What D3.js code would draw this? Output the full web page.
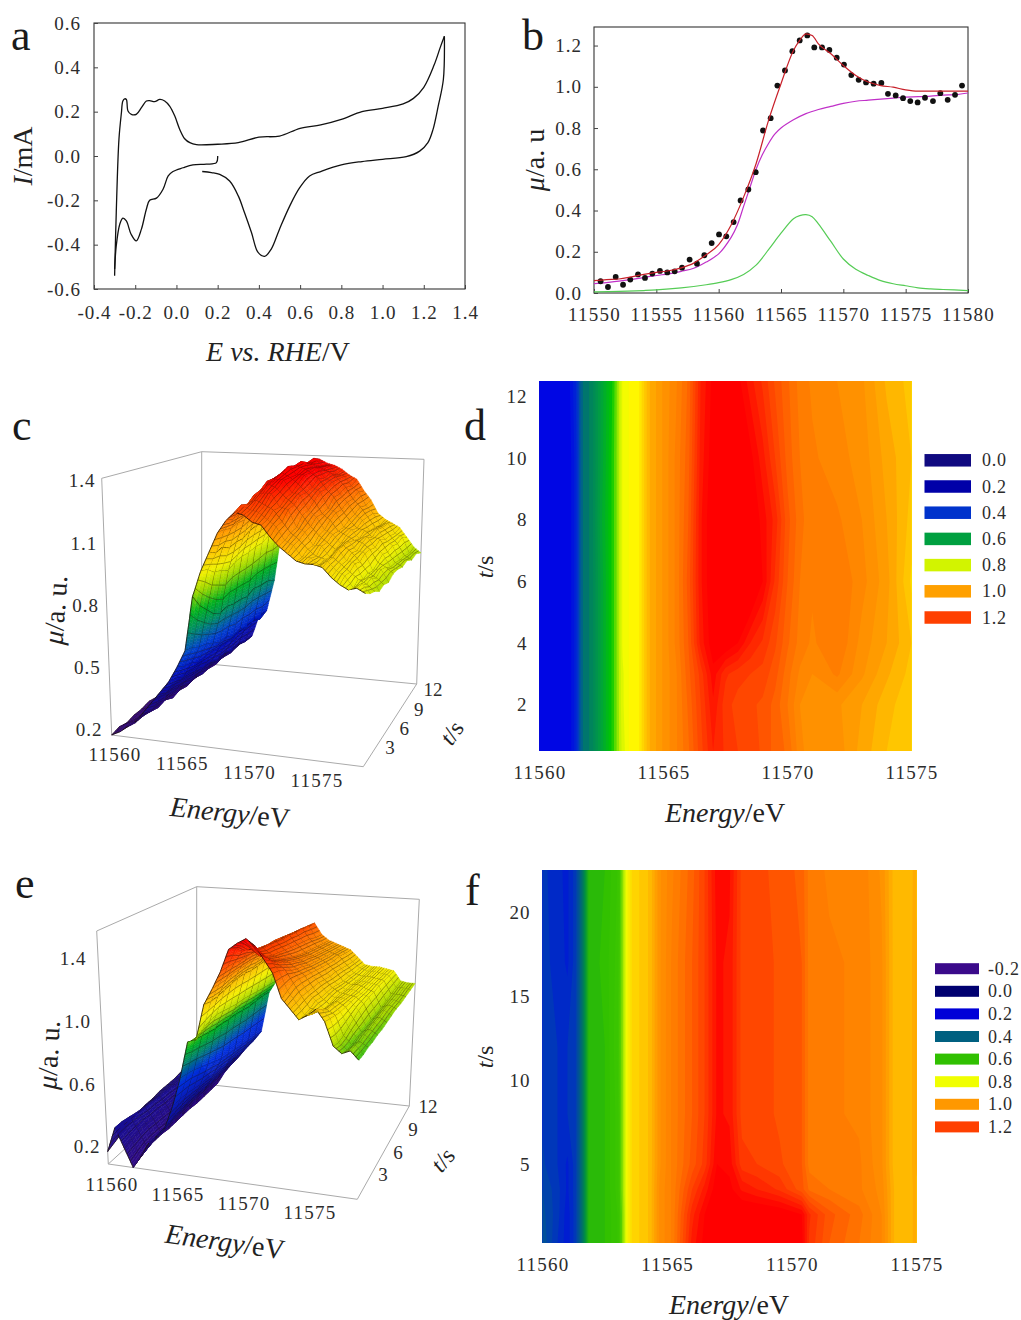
<!DOCTYPE html>
<html>
<head>
<meta charset="utf-8">
<script src="https://cdn.jsdelivr.net/npm/d3@7"></script>
<style>
  html, body { margin: 0; background: #fff; }
  svg { display: block; font-family: 'Liberation Serif', serif; fill: #222; }
  .axis text { fill: #2c2c2c; }
  .axis path.domain { display: none; }
  .axis line { stroke: #444; }
</style>
</head>
<body>
<svg width="1021" height="1320"></svg>
<script>
// panel a: cyclic voltammogram
const cvForward = [[-0.30,-0.54],[-0.292,-0.255],[-0.279,0.075],[-0.267,0.195],[-0.26,0.248],[-0.251,0.258],[-0.243,0.255],[-0.235,0.203],[-0.219,0.188],[-0.195,0.188],[-0.17,0.218],[-0.146,0.248],[-0.13,0.25],[-0.106,0.245],[-0.081,0.255],[-0.057,0.248],[-0.033,0.225],[-0.008,0.18],[0.016,0.12],[0.04,0.078],[0.065,0.06],[0.097,0.051],[0.2,0.053],[0.3,0.06],[0.4,0.085],[0.5,0.09],[0.6,0.125],[0.7,0.14],[0.8,0.165],[0.9,0.2],[1.0,0.215],[1.1,0.235],[1.15,0.26],[1.2,0.31],[1.25,0.41],[1.28,0.49],[1.3,0.54]];
const cvBackHigh = [[1.3,0.54],[1.295,0.345],[1.27,0.225],[1.245,0.12],[1.22,0.06],[1.18,0.022],[1.115,-0.003],[1.0,-0.015],[0.9,-0.025],[0.8,-0.04],[0.7,-0.07],[0.646,-0.09],[0.598,-0.143],[0.55,-0.225],[0.5,-0.33],[0.46,-0.42],[0.428,-0.453],[0.396,-0.435],[0.364,-0.345],[0.33,-0.255],[0.3,-0.18],[0.258,-0.113],[0.21,-0.083],[0.17,-0.075],[0.125,-0.07]];
const cvBackLow = [[0.2,0],[0.194,-0.03],[0.145,-0.037],[0.08,-0.04],[0.032,-0.053],[-0.017,-0.07],[-0.04,-0.09],[-0.065,-0.15],[-0.097,-0.19],[-0.13,-0.2],[-0.146,-0.24],[-0.17,-0.33],[-0.195,-0.383],[-0.22,-0.353],[-0.243,-0.293],[-0.26,-0.28],[-0.275,-0.308],[-0.292,-0.405],[-0.30,-0.51]];
const cvXTicks = [-0.4,-0.2,0,0.2,0.4,0.6,0.8,1.0,1.2,1.4];
const cvYTicks = [-0.6,-0.4,-0.2,0,0.2,0.4,0.6];

// panel b: XANES points and fits
const xanesPoints = [[11550.53,.057],[11551.12,.029],[11551.74,.078],[11552.33,.040],[11552.91,.065],[11553.53,.090],[11554.09,.073],[11554.68,.094],[11555.29,.107],[11555.88,.100],[11556.47,.105],[11557.06,.123],[11557.67,.162],[11558.26,.142],[11558.85,.183],[11559.44,.242],[11560.03,.284],[11560.61,.275],[11561.2,.344],[11561.76,.449],[11562.38,.502],[11562.97,.586],[11563.56,.788],[11564.17,.848],[11564.71,1.006],[11565.32,1.079],[11565.91,1.173],[11566.5,1.225],[11567.11,1.249],[11567.67,1.191],[11568.29,1.191],[11568.88,1.179],[11569.47,1.141],[11570.05,1.108],[11570.64,1.057],[11571.23,1.034],[11571.82,1.021],[11572.43,1.015],[11573.05,1.019],[11573.58,.966],[11574.2,.958],[11574.79,.945],[11575.37,.931],[11575.96,.924],[11576.55,.947],[11577.19,.931],[11577.78,.969],[11578.37,.937],[11578.96,.961],[11579.52,1.006]];
const xanesFit = [[11550,.06],[11551,.065],[11552,.068],[11553,.078],[11554,.09],[11555,.1],[11556,.108],[11557,.122],[11558,.145],[11559,.185],[11560,.235],[11561,.33],[11562,.465],[11563,.627],[11564,.837],[11565,1.015],[11566,1.176],[11566.5,1.225],[11567,1.257],[11567.5,1.249],[11568,1.208],[11569,1.16],[11570,1.103],[11571,1.055],[11572,1.023],[11573,1.006],[11574,.998],[11575,.985],[11576,.979],[11578,.979],[11580,.979]];
const xanesStep = [[11550,.045],[11552,.058],[11554,.075],[11555,.085],[11556,.093],[11557,.105],[11558,.12],[11559,.15],[11560,.19],[11561,.27],[11561.5,.33],[11562,.42],[11562.5,.51],[11563,.6],[11563.5,.67],[11564,.725],[11564.5,.77],[11565,.8],[11566,.84],[11567,.87],[11568,.89],[11569,.905],[11570,.92],[11571,.93],[11572,.935],[11573,.94],[11574,.945],[11575,.95],[11576,.952],[11577,.955],[11578,.96],[11579,.962],[11580,.97]];
const xanesPeak = [[11550,.005],[11552,.008],[11554,.012],[11555,.015],[11557,.025],[11559,.04],[11560,.05],[11561,.065],[11562,.09],[11563,.135],[11564,.21],[11565,.29],[11566,.36],[11566.5,.375],[11567,.38],[11567.5,.37],[11568,.335],[11569,.25],[11570,.165],[11571,.115],[11572,.085],[11573,.06],[11574,.045],[11575,.035],[11576,.025],[11577,.02],[11578,.017],[11580,.012]];
const xanesXTicks = [11550,11555,11560,11565,11570,11575,11580];
const xanesYTicks = [0,0.2,0.4,0.6,0.8,1.0,1.2];

// panels c and e: surface grids, one row per time, one value per energy
const surfaceEnergies = [11560,11560.5,11561,11561.5,11562,11562.5,11563,11563.5,11564,11564.5,11565,11565.5,11566,11566.5,11567,11567.5,11568,11568.5,11569,11569.5,11570,11570.5,11571,11571.5,11572,11572.5,11573,11573.5,11574,11574.5,11575];
const surfaceTimes = [0.5,1.5,2.5,3.5,4.5,5.5,6.5,7.5,8.5,9.5,10.5,11.5,12.5];
const surfaceC = [
  [.2,.22,.25,.28,.33,.38,.43,.48,.55,.63,.88,1.0,1.09,1.18,1.24,1.28,1.27,1.24,1.23,1.18,1.14,1.11,1.08,1.07,1.07,1.06,1.02,.99,.97,.98,.96],
  [.21,.23,.24,.28,.31,.37,.41,.47,.53,.62,.82,.99,1.07,1.18,1.23,1.3,1.28,1.27,1.24,1.21,1.15,1.13,1.08,1.08,1.05,1.07,1.03,1.01,.96,.98,.94],
  [.2,.22,.25,.27,.31,.36,.41,.45,.52,.6,.78,.96,1.08,1.17,1.24,1.29,1.31,1.29,1.27,1.22,1.17,1.14,1.10,1.07,1.06,1.07,1.04,1.01,.98,.96,.93],
  [.21,.21,.25,.26,.32,.35,.4,.45,.5,.59,.74,.95,1.06,1.18,1.24,1.32,1.33,1.33,1.27,1.26,1.18,1.16,1.1,1.1,1.05,1.09,1.04,1.03,.96,.97,.91],
  [.21,.22,.24,.27,.31,.35,.39,.44,.5,.57,.72,.93,1.07,1.18,1.27,1.33,1.36,1.34,1.3,1.27,1.22,1.17,1.13,1.1,1.07,1.09,1.06,1.02,.97,.95,.92],
  [.22,.21,.25,.25,.31,.33,.39,.42,.5,.55,.73,.95,1.07,1.2,1.27,1.36,1.37,1.37,1.31,1.3,1.23,1.2,1.14,1.12,1.08,1.09,1.05,1.04,.96,.97,.91],
  [.21,.22,.24,.26,.3,.34,.38,.42,.49,.55,.72,.96,1.09,1.2,1.29,1.36,1.39,1.37,1.34,1.3,1.26,1.2,1.17,1.12,1.1,1.08,1.07,1.04,.98,.96,.93],
  [.22,.21,.24,.25,.3,.32,.38,.4,.49,.53,.72,.96,1.1,1.21,1.31,1.36,1.41,1.37,1.37,1.31,1.29,1.21,1.19,1.12,1.11,1.07,1.08,1.03,1.0,.94,.93],
  [.21,.22,.23,.26,.29,.33,.37,.41,.48,.54,.71,.97,1.1,1.21,1.3,1.37,1.4,1.39,1.37,1.34,1.29,1.25,1.19,1.14,1.1,1.09,1.06,1.05,.99,.94,.92],
  [.22,.21,.24,.25,.3,.32,.37,.39,.5,.52,.73,.97,1.11,1.2,1.32,1.35,1.41,1.38,1.38,1.33,1.31,1.25,1.21,1.15,1.12,1.07,1.08,1.03,1.0,.93,.93],
  [.22,.22,.23,.25,.29,.32,.36,.4,.5,.53,.72,.99,1.1,1.21,1.31,1.36,1.39,1.38,1.36,1.34,1.31,1.27,1.21,1.17,1.12,1.07,1.07,1.03,.99,.93,.91],
  [.22,.21,.24,.24,.3,.31,.36,.38,.51,.51,.72,.98,1.11,1.19,1.31,1.34,1.4,1.36,1.36,1.32,1.31,1.26,1.23,1.16,1.12,1.06,1.07,1.02,1.0,.92,.92],
  [.22,.22,.23,.25,.29,.32,.35,.38,.5,.53,.7,1.0,1.1,1.2,1.3,1.35,1.38,1.36,1.35,1.33,1.3,1.28,1.22,1.17,1.1,1.07,1.05,1.03,.98,.93,.9]
];
const surfaceE = [
  [.18,.34,.22,.1,.18,.27,.32,.38,.52,.7,.93,.95,1.17,1.27,1.38,1.52,1.56,1.59,1.55,1.47,1.39,1.24,1.18,1.12,1.15,1.19,1.12,.98,.94,.96,.91],
  [.2,.34,.23,.12,.19,.27,.32,.39,.52,.69,.91,.98,1.16,1.27,1.38,1.5,1.53,1.52,1.48,1.44,1.38,1.26,1.19,1.12,1.13,1.16,1.11,.97,.93,.96,.91],
  [.22,.33,.24,.14,.2,.27,.33,.4,.52,.68,.9,1.0,1.16,1.27,1.38,1.46,1.48,1.44,1.42,1.4,1.36,1.28,1.2,1.13,1.12,1.13,1.1,.98,.93,.95,.92],
  [.24,.32,.25,.14,.2,.28,.33,.41,.51,.66,.89,1.01,1.17,1.28,1.37,1.45,1.45,1.41,1.39,1.38,1.33,1.28,1.2,1.15,1.1,1.13,1.09,1.0,.94,.96,.92],
  [.26,.31,.24,.14,.21,.28,.34,.41,.5,.64,.88,1.0,1.18,1.28,1.37,1.42,1.43,1.39,1.37,1.35,1.31,1.27,1.2,1.14,1.1,1.12,1.09,1.02,.94,.96,.93],
  [.27,.31,.24,.13,.21,.28,.34,.41,.5,.62,.88,.99,1.19,1.28,1.37,1.41,1.43,1.38,1.35,1.33,1.3,1.26,1.2,1.14,1.11,1.11,1.09,1.04,.94,.97,.93],
  [.27,.3,.23,.13,.21,.28,.34,.4,.49,.6,.87,.98,1.19,1.28,1.36,1.4,1.42,1.37,1.33,1.31,1.28,1.25,1.19,1.14,1.11,1.1,1.09,1.05,.95,.97,.94],
  [.28,.3,.23,.13,.21,.28,.34,.4,.49,.59,.87,.98,1.18,1.27,1.35,1.4,1.41,1.36,1.31,1.3,1.27,1.24,1.18,1.13,1.1,1.1,1.08,1.06,.95,.98,.95],
  [.28,.29,.22,.13,.21,.28,.34,.4,.48,.58,.86,.97,1.18,1.27,1.34,1.39,1.41,1.35,1.3,1.28,1.26,1.23,1.18,1.12,1.1,1.1,1.08,1.06,.96,.98,.96],
  [.28,.28,.21,.12,.21,.28,.34,.41,.48,.57,.85,.96,1.18,1.27,1.34,1.38,1.4,1.34,1.29,1.27,1.25,1.22,1.17,1.12,1.09,1.09,1.08,1.07,.97,.98,.96],
  [.29,.26,.2,.12,.21,.28,.34,.41,.47,.56,.85,.95,1.18,1.27,1.33,1.37,1.4,1.33,1.28,1.26,1.24,1.22,1.16,1.11,1.09,1.09,1.08,1.07,.98,.98,.97],
  [.3,.24,.17,.12,.21,.28,.34,.41,.47,.55,.85,.94,1.18,1.26,1.31,1.35,1.39,1.31,1.27,1.25,1.23,1.21,1.15,1.11,1.09,1.09,1.08,1.07,.99,.99,.98],
  [.3,.22,.15,.12,.21,.28,.34,.41,.47,.54,.84,.93,1.18,1.26,1.3,1.34,1.38,1.3,1.26,1.24,1.22,1.2,1.15,1.1,1.09,1.09,1.08,1.07,1.0,.99,.99]
];

// panel d: contour map
const mapEnergiesD = [11560,11561.2,11561.45,11561.7,11562.1,11562.5,11562.9,11563.15,11563.35,11563.6,11564,11564.4,11565,11565.5,11566,11566.5,11567,11567.5,11568,11568.5,11569,11569.5,11570,11570.5,11571,11572,11573,11574,11575];
const mapTimesD = [0.5,2,3,4,6,8,10,12.5];
const mapD = [
  [.31,.31,.36,.47,.51,.61,.7,.76,.81,.85,.87,.97,1.03,1.07,1.12,1.19,1.25,1.22,1.2,1.19,1.17,1.14,1.12,1.06,1.03,1.04,.99,.95,.93],
  [.31,.31,.36,.47,.51,.61,.7,.76,.82,.85,.87,.97,1.03,1.07,1.13,1.2,1.27,1.21,1.19,1.18,1.17,1.14,1.1,1.05,1.03,1.03,1.0,.96,.93],
  [.31,.31,.36,.47,.51,.61,.7,.76,.82,.85,.87,.97,1.03,1.07,1.14,1.21,1.29,1.23,1.21,1.2,1.19,1.16,1.11,1.07,1.05,1.08,1.03,.98,.94],
  [.31,.31,.36,.47,.51,.61,.7,.76,.83,.85,.87,.97,1.03,1.08,1.15,1.26,1.32,1.33,1.3,1.25,1.22,1.18,1.13,1.09,1.07,1.1,1.04,1.0,.95],
  [.31,.31,.36,.47,.51,.61,.7,.76,.83,.85,.87,.97,1.03,1.08,1.16,1.27,1.33,1.36,1.37,1.36,1.3,1.22,1.15,1.1,1.08,1.1,1.06,1.01,.92],
  [.31,.31,.36,.47,.51,.62,.7,.76,.83,.85,.87,.97,1.03,1.08,1.15,1.27,1.33,1.36,1.36,1.33,1.29,1.24,1.16,1.11,1.08,1.08,1.05,1.0,.94],
  [.31,.31,.36,.47,.51,.61,.7,.76,.83,.85,.87,.97,1.03,1.08,1.14,1.26,1.32,1.34,1.34,1.31,1.26,1.2,1.14,1.1,1.08,1.06,1.04,.99,.95],
  [.31,.32,.37,.47,.51,.61,.69,.76,.83,.85,.87,.97,1.03,1.07,1.13,1.25,1.31,1.32,1.31,1.26,1.22,1.17,1.13,1.09,1.07,1.05,1.03,.97,.94]
];

// panel f: contour map
const mapEnergiesF = [11560,11560.6,11561,11561.3,11561.6,11561.85,11562.5,11563,11563.2,11563.4,11563.6,11564.3,11564.7,11565.2,11566,11566.5,11567,11567.5,11568,11568.6,11569.5,11570.4,11570.7,11571.5,11572.7,11573.6,11574.1,11574.7,11575];
const mapTimesF = [0.3,2,3.5,5,8,12,17,22.5];
const mapF = [
  [.37,.3,.26,.31,.44,.58,.6,.65,.73,.82,.88,.93,1.03,1.08,1.26,1.31,1.35,1.35,1.35,1.35,1.34,1.31,1.22,1.15,1.1,1.05,.95,.93,.97],
  [.36,.31,.26,.31,.44,.58,.6,.65,.73,.82,.88,.93,1.03,1.08,1.24,1.3,1.35,1.35,1.34,1.34,1.33,1.3,1.23,1.16,1.11,1.05,.95,.93,.97],
  [.35,.31,.27,.31,.44,.58,.6,.66,.74,.82,.88,.93,1.03,1.08,1.2,1.26,1.32,1.31,1.27,1.25,1.22,1.16,1.12,1.1,1.08,1.04,.95,.93,.97],
  [.33,.3,.27,.31,.44,.58,.6,.66,.74,.82,.88,.93,1.02,1.08,1.16,1.21,1.3,1.29,1.21,1.2,1.18,1.15,1.09,1.08,1.08,1.03,.94,.93,.98],
  [.32,.3,.3,.31,.44,.58,.6,.66,.74,.82,.88,.93,1.02,1.08,1.15,1.2,1.28,1.27,1.19,1.19,1.17,1.15,1.09,1.08,1.07,1.03,.94,.93,.98],
  [.31,.3,.3,.31,.44,.58,.6,.67,.74,.82,.88,.93,1.02,1.08,1.15,1.2,1.28,1.27,1.19,1.19,1.17,1.15,1.09,1.08,1.07,1.03,.94,.93,.98],
  [.31,.29,.27,.31,.44,.58,.61,.66,.74,.82,.88,.93,1.02,1.08,1.15,1.2,1.28,1.27,1.19,1.19,1.17,1.15,1.09,1.08,1.07,1.03,.94,.93,.98],
  [.31,.28,.27,.31,.44,.58,.6,.65,.74,.82,.88,.93,1.02,1.07,1.14,1.2,1.29,1.28,1.19,1.18,1.17,1.14,1.09,1.07,1.07,1.02,.94,.93,.97]
];
const legendLevelsD = [0,0.2,0.4,0.6,0.8,1.0,1.2];
const legendLevelsF = [-0.2,0,0.2,0.4,0.6,0.8,1.0,1.2];

const svg = d3.select('svg');
const fmt1 = v => d3.format('.1f')(v).replace('\u2212', '-');

const colorMapD = d3.scaleLinear()
  .domain([-.2,0,.2,.3,.4,.5,.6,.7,.78,.85,.92,1.0,1.1,1.2,1.3])
  .range(['#3a0a8a','#100a80','#0000a8','#0000e8','#0033cc','#008060','#00a040','#00c800','#c0f000','#ffff00','#ffd000','#ffa000','#ff7800','#ff4000','#ff0000']);
const colorMapF = d3.scaleLinear()
  .domain([-.2,0,.2,.27,.33,.4,.5,.6,.7,.8,.88,1.0,1.1,1.2,1.3])
  .range(['#3a0a8a','#000070','#0000d8','#0020d0','#0040b0','#006080','#009040','#30c000','#40c800','#f0ff00','#ffd800','#ff9800','#ff7800','#ff4000','#ff0000']);
const colorSurfC = d3.scaleLinear()
  .domain([.2,.35,.5,.6,.72,.8,.9,.98,1.1,1.22,1.33])
  .range(['#3a0a80','#1a0a90','#0010c0','#0040d0','#009060','#00b020','#a0d800','#f0f000','#ffc000','#ff7a00','#ff2000']);
const colorSurfE = d3.scaleLinear()
  .domain([.1,.4,.65,.78,.88,.97,1.07,1.25,1.42,1.56])
  .range(['#300a80','#10109a','#0030e0','#008070','#00b020','#a8d800','#f4f000','#ffa000','#ff4000','#ff0000']);

// text with some italic runs, centred on x,y
const title = (x, y, runs, opts = {}) => {
  const t = svg.append('text')
    .attr('text-anchor', 'middle')
    .attr('font-size', opts.size || 28)
    .attr('fill', '#222')
    .attr('transform', `translate(${x},${y}) rotate(${opts.rotate || 0})`)
    .attr('dy', '0.32em');
  runs.forEach(([s, italic]) => {
    t.append('tspan').attr('font-style', italic ? 'italic' : 'normal').text(s);
  });
};

const panelLetter = (x, y, s) => svg.append('text')
  .attr('x', x).attr('y', y).attr('font-size', 44).attr('fill', '#1a1a1a').text(s);

const axes = (g, x, y, xTicks, yTicks, xFmt, pads, spacing) => {
  const [x0, x1] = x.range();
  const [y0, y1] = y.range();
  g.append('rect')
    .attr('x', x0).attr('y', y1).attr('width', x1 - x0).attr('height', y0 - y1)
    .attr('fill', 'none').attr('stroke', '#333').attr('stroke-width', 1.1);
  g.append('g').attr('class', 'axis')
    .attr('transform', `translate(0,${y0})`)
    .call(d3.axisBottom(x).tickValues(xTicks).tickFormat(xFmt).tickSizeInner(-4).tickSizeOuter(0).tickPadding(pads[0]))
    .attr('font-size', 19).attr('font-family', null)
    .style('letter-spacing', spacing + 'px');
  g.append('g').attr('class', 'axis')
    .attr('transform', `translate(${x0},0)`)
    .call(d3.axisLeft(y).tickValues(yTicks).tickFormat(fmt1).tickSizeInner(-4).tickSizeOuter(0).tickPadding(pads[1]))
    .attr('font-size', 19).attr('font-family', null)
    .style('letter-spacing', '1px');
};

// ---- a
const xA = d3.scaleLinear().domain([-0.4, 1.4]).range([94, 465]);
const yA = d3.scaleLinear().domain([-0.6, 0.6]).range([289, 23]);
const gA = svg.append('g');
axes(gA, xA, yA, cvXTicks, cvYTicks, fmt1, [17, 13], 1);
const lineA = d3.line().x(d => xA(d[0])).y(d => yA(d[1])).curve(d3.curveCatmullRom.alpha(0.5));
gA.selectAll('path.cv').data([cvForward, cvBackHigh, cvBackLow]).join('path')
  .attr('class', 'cv').attr('d', lineA)
  .attr('fill', 'none').attr('stroke', '#111').attr('stroke-width', 1.3);
panelLetter(11, 50, 'a');
title(278, 352, [['E', true], [' vs. ', true], ['RHE', true], ['/V', false]]);
title(23, 156, [['I', true], ['/mA', false]], { rotate: -90 });

// ---- b
const xB = d3.scaleLinear().domain([11550, 11580]).range([594, 968]);
const yB = d3.scaleLinear().domain([0, 1.29]).range([293, 27]);
const gB = svg.append('g');
axes(gB, xB, yB, xanesXTicks, xanesYTicks, d3.format('d'), [15, 12], 1.2);
const lineB = d3.line().x(d => xB(d[0])).y(d => yB(d[1])).curve(d3.curveMonotoneX);
const lineSmooth = d3.line().x(d => xB(d[0])).y(d => yB(d[1])).curve(d3.curveCatmullRom.alpha(0.5));
gB.append('path').attr('d', lineSmooth(xanesPeak)).attr('fill', 'none').attr('stroke', '#55cc55').attr('stroke-width', 1.2);
gB.append('path').attr('d', lineSmooth(xanesStep)).attr('fill', 'none').attr('stroke', '#c030c8').attr('stroke-width', 1.2);
gB.selectAll('circle').data(xanesPoints).join('circle')
  .attr('cx', d => xB(d[0])).attr('cy', d => yB(d[1])).attr('r', 2.9).attr('fill', '#111');
gB.append('path').attr('d', lineB(xanesFit)).attr('fill', 'none').attr('stroke', '#c8202a').attr('stroke-width', 1.2);
panelLetter(522, 50, 'b');
title(535, 160, [['\u03bc', true], ['/a. u', false]], { rotate: -90 });

// ---- contour maps d and f
const contourMap = (box, energies, times, rows, color, tTicks, tDomain, id) => {
  const x = d3.scaleLinear().domain([11560, 11575]).range([box.x0, box.x1]);
  const y = d3.scaleLinear().domain(tDomain).range([box.y1, box.y0]);
  // d3.contours sample i sits at i + 0.5, send that back to energy and time
  const colToE = d3.scaleLinear().domain(energies.map((e, i) => i + 0.5)).range(energies);
  const rowToT = d3.scaleLinear().domain(times.map((t, i) => i + 0.5)).range(times);
  const step = 0.025;
  const contours = d3.contours()
    .size([energies.length, times.length])
    .thresholds(d3.range(0.2, 1.4, step))(rows.flat());
  const path = d3.geoPath(d3.geoTransform({
    point(px, py) { this.stream.point(x(colToE(px)), y(rowToT(py))); }
  }));
  svg.append('clipPath').attr('id', id).append('rect')
    .attr('x', box.x0).attr('y', box.y0).attr('width', box.x1 - box.x0).attr('height', box.y1 - box.y0);
  const g = svg.append('g');
  const plot = g.append('g').attr('clip-path', `url(#${id})`);
  plot.append('rect')
    .attr('x', box.x0).attr('y', box.y0).attr('width', box.x1 - box.x0).attr('height', box.y1 - box.y0)
    .attr('fill', color(0.2));
  plot.selectAll('path').data(contours).join('path')
    .attr('d', path).attr('fill', d => color(d.value + step / 2));
  const ax = g.append('g').attr('class', 'axis')
    .attr('transform', `translate(0,${box.y1})`)
    .call(d3.axisBottom(x).tickValues([11560, 11565, 11570, 11575]).tickFormat(d3.format('d')).tickSize(0).tickPadding(15))
    .attr('font-size', 19).attr('font-family', null).style('letter-spacing', '1.2px');
  ax.selectAll('line').remove();
  const ay = g.append('g').attr('class', 'axis')
    .attr('transform', `translate(${box.x0},0)`)
    .call(d3.axisLeft(y).tickValues(tTicks).tickFormat(d3.format('d')).tickSize(0).tickPadding(12))
    .attr('font-size', 19).attr('font-family', null).style('letter-spacing', '1px');
  ay.selectAll('line').remove();
};

contourMap({ x0: 539.5, x1: 911.5, y0: 381, y1: 751 }, mapEnergiesD, mapTimesD, mapD, colorMapD, [2, 4, 6, 8, 10, 12], [0.5, 12.5], 'clip-d');
contourMap({ x0: 542.5, x1: 916.5, y0: 870, y1: 1243 }, mapEnergiesF, mapTimesF, mapF, colorMapF, [5, 10, 15, 20], [0.3, 22.5], 'clip-f');

const legend = (levels, color, x, y0, dy, w, h, labelX, fmtSize) => {
  const g = svg.append('g');
  const rows = g.selectAll('g').data(levels).join('g')
    .attr('transform', (d, i) => `translate(0,${y0 + i * dy})`);
  rows.append('rect')
    .attr('x', x).attr('y', -h / 2).attr('width', w).attr('height', h)
    .attr('fill', d => color(d));
  rows.append('text')
    .attr('x', labelX).attr('dy', '0.34em')
    .attr('font-size', fmtSize).attr('fill', '#2c2c2c')
    .style('letter-spacing', '0.8px')
    .text(fmt1);
};
legend(legendLevelsD, colorMapD, 924.5, 460.3, 26.2, 46.5, 12.5, 982, 18);
legend(legendLevelsF, colorMapF, 935, 968.7, 22.6, 44, 11, 988, 18);

panelLetter(464, 440, 'd');
panelLetter(465, 905, 'f');
title(725, 813, [['Energy', true], ['/eV', false]]);
title(729, 1305, [['Energy', true], ['/eV', false]]);
title(485, 567, [['t', true], ['/s', false]], { size: 24, rotate: -90 });
title(485, 1057, [['t', true], ['/s', false]], { size: 24, rotate: -90 });

// ---- surfaces c and e
const lerp = (a, b, f) => [a[0] + (b[0] - a[0]) * f, a[1] + (b[1] - a[1]) * f];
const toPath = pts => 'M' + pts.map(p => p.map(n => n.toFixed(1)).join(',')).join('L');

const surface = (corners, rows, colorOf, zDomain) => {
  const eScale = d3.scaleLinear().domain([11560, 11575]).range([0, 1]);
  const tScale = d3.scaleLinear().domain([0.5, 12.5]).range([0, 1]);
  const zScale = d3.scaleLinear().domain(zDomain).range([0, 1]);
  const project = (e, t, z) => {
    const u = eScale(e), v = tScale(t), w = zScale(z);
    const floor = lerp(lerp(corners.fl, corners.fr, u), lerp(corners.bl, corners.br, u), v);
    const ceil = lerp(lerp(corners.flTop, corners.frTop, u), lerp(corners.blTop, corners.brTop, u), v);
    return lerp(floor, ceil, w);
  };
  const g = svg.append('g');
  const frame = [
    [corners.fl, corners.flTop], [corners.flTop, corners.blTop], [corners.blTop, corners.brTop],
    [corners.brTop, corners.br], [corners.blTop, corners.bl], [corners.bl, corners.br],
    [corners.bl, corners.fl], [corners.fl, corners.fr], [corners.fr, corners.br]
  ];
  g.selectAll('line.frame').data(frame).join('line')
    .attr('class', 'frame')
    .attr('x1', d => d[0][0]).attr('y1', d => d[0][1])
    .attr('x2', d => d[1][0]).attr('y2', d => d[1][1])
    .attr('stroke', '#aaa').attr('stroke-width', 1);

  // far cells first, so nearer ones paint over them
  const facets = [];
  for (let j = surfaceTimes.length - 2; j >= 0; j--) {
    for (let i = surfaceEnergies.length - 2; i >= 0; i--) {
      const e0 = surfaceEnergies[i], e1 = surfaceEnergies[i + 1];
      const t0 = surfaceTimes[j], t1 = surfaceTimes[j + 1];
      const zAt = (fu, fv) => {
        const a = rows[j][i] + (rows[j][i + 1] - rows[j][i]) * fu;
        const b = rows[j + 1][i] + (rows[j + 1][i + 1] - rows[j + 1][i]) * fu;
        return a + (b - a) * fv;
      };
      const at = (fu, fv) => project(e0 + (e1 - e0) * fu, t0 + (t1 - t0) * fv, zAt(fu, fv));
      const dz = Math.abs(rows[j][i + 1] - rows[j][i]) + Math.abs(rows[j + 1][i + 1] - rows[j + 1][i]);
      const nu = Math.max(3, Math.ceil(dz / 0.03));
      const nv = 2;
      for (let b = nv - 1; b >= 0; b--) {
        for (let a = nu - 1; a >= 0; a--) {
          const u0 = a / nu, u1 = (a + 1) / nu, v0 = b / nv, v1 = (b + 1) / nv;
          const fill = colorOf(zAt((u0 + u1) / 2, (v0 + v1) / 2));
          facets.push({ d: toPath([at(u0, v0), at(u1, v0), at(u1, v1), at(u0, v1)]) + 'Z', fill, stroke: fill, w: 0.5, o: 1 });
        }
      }
      // striped lines along time, darker mesh lines along energy
      for (let a = 0; a < 3; a++) {
        const pts = d3.range(nv + 1).map(b => at(a / 3, b / nv));
        const major = a === 0 && (i === 10 || i === 12);
        facets.push({ d: toPath(pts), fill: 'none', stroke: '#1c1204', w: major ? 1.1 : 0.7, o: major ? 1 : (a === 0 ? 0.9 : 0.55) });
      }
      const edge = d3.range(nu + 1).map(a => at(a / nu, 0));
      facets.push({ d: toPath(edge), fill: 'none', stroke: '#1c1008', w: 0.8, o: j % 2 === 0 ? 1 : 0.6 });
    }
  }
  g.selectAll('path').data(facets).join('path')
    .attr('d', d => d.d).attr('fill', d => d.fill)
    .attr('stroke', d => d.stroke).attr('stroke-width', d => d.w).attr('stroke-opacity', d => d.o);
  return { g, project };
};

const tickLabels = (values, xOf, yOf, fmt, spacing) => svg.append('g')
  .selectAll('text').data(values).join('text')
  .attr('x', d => xOf(d)).attr('y', d => yOf(d)).attr('dy', '0.34em')
  .attr('text-anchor', 'middle').attr('font-size', 19).attr('fill', '#2c2c2c')
  .style('letter-spacing', spacing + 'px')
  .text(fmt);

surface({
  fl: [111.7, 735], fr: [363.3, 766.7], bl: [201.7, 663.3], br: [416.7, 684],
  flTop: [101.7, 478.3], frTop: [366.7, 493.3], blTop: [201.7, 451.7], brTop: [424, 459.3]
}, surfaceC, colorSurfC, [0.2, 1.4]);
tickLabels([11560, 11565, 11570, 11575],
  d3.scaleLinear().domain([11560, 11575]).range([115, 317]),
  d3.scaleLinear().domain([11560, 11575]).range([755, 781]), d3.format('d'), 1.2);
tickLabels([3, 6, 9, 12],
  d3.scaleLinear().domain([3, 12]).range([390, 433]),
  d3.scaleLinear().domain([3, 12]).range([748, 690]), d3.format('d'), 0);
tickLabels([0.2, 0.5, 0.8, 1.1, 1.4],
  d3.scaleLinear().domain([0.2, 1.4]).range([89, 82]),
  d3.scaleLinear().domain([0.2, 1.4]).range([730, 481]), fmt1, 1);
panelLetter(12, 440, 'c');
title(56, 610, [['\u03bc', true], ['/a. u.', false]], { rotate: -86 });
title(230, 813, [['Energy', true], ['/eV', false]], { rotate: 6 });
title(452, 733, [['t', true], ['/s', false]], { size: 24, rotate: -55 });

surface({
  fl: [108.3, 1164], fr: [357.3, 1199.3], bl: [196.7, 1083.3], br: [409.3, 1106],
  flTop: [96.7, 931], frTop: [360, 941.7], blTop: [196.7, 886.7], brTop: [419.3, 899.3]
}, surfaceE, colorSurfE, [0.1, 1.6]);
tickLabels([11560, 11565, 11570, 11575],
  d3.scaleLinear().domain([11560, 11575]).range([112, 310]),
  d3.scaleLinear().domain([11560, 11575]).range([1185, 1213]), d3.format('d'), 1.2);
tickLabels([3, 6, 9, 12],
  d3.scaleLinear().domain([3, 12]).range([383, 428]),
  d3.scaleLinear().domain([3, 12]).range([1175, 1107]), d3.format('d'), 0);
tickLabels([0.2, 0.6, 1.0, 1.4],
  d3.scaleLinear().domain([0.2, 1.4]).range([87, 73]),
  d3.scaleLinear().domain([0.2, 1.4]).range([1147, 959]), fmt1, 1);
panelLetter(15, 898, 'e');
title(49, 1055, [['\u03bc', true], ['/a. u.', false]], { rotate: -87 });
title(225, 1242, [['Energy', true], ['/eV', false]], { rotate: 8 });
title(443, 1160, [['t', true], ['/s', false]], { size: 24, rotate: -50 });
</script>
</body>
</html>
